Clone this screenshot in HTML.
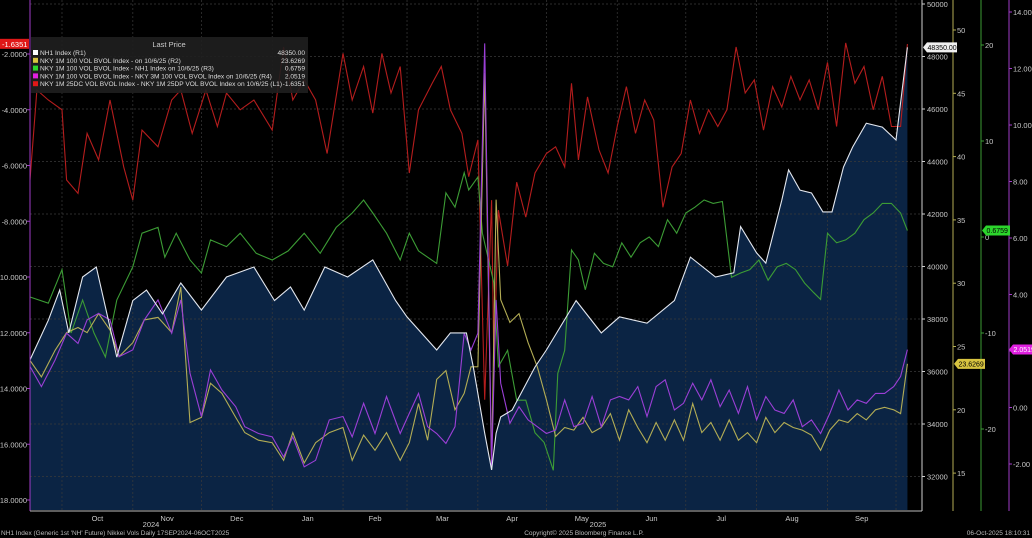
<!DOCTYPE html>
<html><head><meta charset="utf-8"><style>
body{margin:0;background:#000;width:1032px;height:538px;overflow:hidden;font-family:"Liberation Sans",sans-serif}
svg{display:block}
text{font-family:"Liberation Sans",sans-serif}
</style></head><body>
<svg id="c" width="1032" height="538"></svg>
<script>
// ---- data ----
const nhDates=["2024-09-17","2024-09-25","2024-09-30","2024-10-04","2024-10-10","2024-10-16","2024-10-25","2024-11-01","2024-11-07","2024-11-14","2024-11-22","2024-12-01","2024-12-12","2024-12-24","2025-01-02","2025-01-09","2025-01-15","2025-01-24","2025-02-03","2025-02-14","2025-02-24","2025-03-01","2025-03-14","2025-03-20","2025-03-27","2025-03-30","2025-04-04","2025-04-07","2025-04-09","2025-04-11","2025-04-16","2025-04-26","2025-05-01","2025-05-14","2025-05-25","2025-06-02","2025-06-14","2025-06-26","2025-07-03","2025-07-14","2025-07-22","2025-07-25","2025-08-01","2025-08-05","2025-08-12","2025-08-15","2025-08-20","2025-08-25","2025-08-30","2025-09-03","2025-09-08","2025-09-12","2025-09-18","2025-09-25","2025-10-01","2025-10-06"];
const nhValues=[36440,37950,39100,37470,39600,39980,36550,38700,39100,38200,39370,38340,39600,39980,38700,39220,38340,39980,39600,40250,38700,38080,36820,37470,37470,36170,33650,32250,33650,34270,34530,36170,36820,38700,37470,38080,37840,38700,40360,39600,39760,41520,40520,40130,42530,43680,42910,42800,42080,42080,43790,44550,45460,45310,44820,48350];

const rrDates=["2024-09-17","2024-09-20","2024-09-25","2024-10-01","2024-10-03","2024-10-08","2024-10-12","2024-10-17","2024-10-22","2024-10-28","2024-11-01","2024-11-05","2024-11-12","2024-11-18","2024-11-22","2024-11-27","2024-12-03","2024-12-08","2024-12-12","2024-12-18","2024-12-24","2025-01-01","2025-01-06","2025-01-10","2025-01-15","2025-01-20","2025-01-25","2025-02-01","2025-02-05","2025-02-10","2025-02-14","2025-02-18","2025-02-22","2025-02-26","2025-03-02","2025-03-06","2025-03-12","2025-03-16","2025-03-20","2025-03-25","2025-03-28","2025-04-01","2025-04-04","2025-04-07","2025-04-08","2025-04-10","2025-04-14","2025-04-18","2025-04-22","2025-04-26","2025-05-01","2025-05-05","2025-05-09","2025-05-12","2025-05-15","2025-05-19","2025-05-24","2025-05-28","2025-06-01","2025-06-05","2025-06-09","2025-06-13","2025-06-17","2025-06-21","2025-06-25","2025-06-29","2025-07-03","2025-07-07","2025-07-11","2025-07-15","2025-07-19","2025-07-23","2025-07-27","2025-07-31","2025-08-04","2025-08-08","2025-08-12","2025-08-16","2025-08-20","2025-08-24","2025-08-28","2025-09-01","2025-09-05","2025-09-09","2025-09-13","2025-09-17","2025-09-21","2025-09-25","2025-09-29","2025-10-03","2025-10-06"];
const rrValues=[-6.52,-3.29,-3.65,-4.0,-6.52,-7.0,-4.85,-5.8,-3.65,-6.05,-7.24,-4.73,-5.33,-3.65,-3.29,-4.85,-3.29,-4.6,-3.4,-4.0,-3.65,-4.73,-1.75,-3.65,-2.93,-3.65,-5.57,-1.98,-3.65,-2.45,-4.12,-1.98,-3.4,-2.45,-6.27,-4.0,-3.05,-2.45,-4.0,-4.85,-6.4,-5.08,-14.4,-7.24,-13.2,-7.6,-9.6,-6.6,-7.85,-6.27,-5.57,-5.33,-6.05,-3.05,-5.8,-3.54,-5.44,-6.27,-4.6,-3.17,-4.85,-3.65,-4.37,-7.5,-6.05,-5.57,-3.65,-4.85,-4.0,-4.6,-4.0,-1.75,-3.4,-2.93,-4.73,-3.17,-3.9,-2.8,-3.65,-2.93,-4.0,-2.3,-4.6,-1.6,-3.05,-2.45,-4.0,-2.8,-4.6,-4.6,-1.64];

const grDates=["2024-09-17","2024-09-25","2024-10-01","2024-10-05","2024-10-10","2024-10-15","2024-10-20","2024-10-25","2024-11-01","2024-11-05","2024-11-12","2024-11-15","2024-11-20","2024-11-26","2024-12-01","2024-12-05","2024-12-12","2024-12-18","2024-12-25","2025-01-01","2025-01-08","2025-01-15","2025-01-22","2025-01-29","2025-02-05","2025-02-10","2025-02-14","2025-02-20","2025-02-26","2025-03-02","2025-03-06","2025-03-10","2025-03-14","2025-03-18","2025-03-22","2025-03-26","2025-03-28","2025-04-01","2025-04-03","2025-04-08","2025-04-10","2025-04-14","2025-04-18","2025-04-22","2025-04-26","2025-04-30","2025-05-04","2025-05-06","2025-05-09","2025-05-12","2025-05-15","2025-05-18","2025-05-22","2025-05-26","2025-05-30","2025-06-03","2025-06-07","2025-06-11","2025-06-15","2025-06-19","2025-06-23","2025-06-27","2025-07-01","2025-07-05","2025-07-09","2025-07-13","2025-07-17","2025-07-21","2025-07-25","2025-07-29","2025-08-02","2025-08-06","2025-08-10","2025-08-14","2025-08-18","2025-08-22","2025-08-26","2025-08-29","2025-09-01","2025-09-05","2025-09-09","2025-09-13","2025-09-17","2025-09-21","2025-09-25","2025-09-29","2025-10-03","2025-10-06"];
const grValues=[-6.25,-6.9,-3.4,-10,-6.56,-10,-12.5,-6.56,-3.1,0.4,1.0,-2.1,0.4,-2.4,-3.75,-0.3,-1.0,0.4,-1.7,-2.4,-1.45,0.4,-1.7,1.0,2.5,3.85,2.5,0.4,-2.4,0.4,-1.45,-2.1,-2.75,4.6,3.1,6.7,4.9,6.25,0.4,-4.8,-13.5,-11.8,-17,-17,-20.4,-21.4,-24.3,-14.2,-11.8,-1.35,-2.4,-5.5,-1.7,-2.75,-3.1,-0.6,-2.1,-0.6,0.0,-1.0,1.8,0.4,2.5,3.1,3.85,3.5,3.7,-4.2,-3.75,-3.4,-2.4,-4.5,-3.1,-2.75,-3.4,-4.8,-5.8,-6.5,0.4,-0.6,-0.3,0.4,1.8,2.5,3.5,3.5,2.5,0.68];

const yeDates=["2024-09-17","2024-09-22","2024-09-28","2024-10-03","2024-10-08","2024-10-12","2024-10-17","2024-10-22","2024-10-26","2024-11-01","2024-11-06","2024-11-12","2024-11-18","2024-11-22","2024-11-26","2024-12-01","2024-12-05","2024-12-10","2024-12-16","2024-12-20","2024-12-26","2025-01-01","2025-01-06","2025-01-10","2025-01-15","2025-01-20","2025-01-26","2025-02-01","2025-02-05","2025-02-10","2025-02-15","2025-02-20","2025-02-26","2025-03-02","2025-03-06","2025-03-10","2025-03-14","2025-03-18","2025-03-22","2025-03-26","2025-03-29","2025-04-01","2025-04-04","2025-04-07","2025-04-09","2025-04-11","2025-04-15","2025-04-19","2025-04-23","2025-04-27","2025-05-01","2025-05-05","2025-05-09","2025-05-13","2025-05-17","2025-05-21","2025-05-25","2025-05-29","2025-06-02","2025-06-06","2025-06-10","2025-06-14","2025-06-18","2025-06-22","2025-06-26","2025-06-30","2025-07-04","2025-07-08","2025-07-12","2025-07-16","2025-07-20","2025-07-24","2025-07-28","2025-08-01","2025-08-05","2025-08-09","2025-08-13","2025-08-17","2025-08-21","2025-08-25","2025-08-29","2025-09-02","2025-09-06","2025-09-10","2025-09-14","2025-09-18","2025-09-22","2025-09-26","2025-09-30","2025-10-03","2025-10-06"];
const yeValues=[23.9,22.6,24.7,26.1,26.5,26.1,27.6,26.3,24.2,25.3,27.1,27.3,26.1,29.7,19.0,19.4,22.1,21.3,19.4,18.2,17.6,17.4,16.0,18.2,15.8,17.4,18.2,18.6,16.0,18.0,16.8,18.2,16.0,17.4,20.5,17.6,22.4,23.1,20.0,21.3,23.4,23.4,46.6,15.3,36.6,28.7,26.9,27.6,25.3,23.4,20.8,17.9,18.6,18.4,19.4,18.2,18.6,19.7,17.6,20.0,18.6,17.4,19.0,17.6,19.2,17.6,20.5,18.2,19.0,17.6,19.2,17.6,18.2,17.4,19.4,18.2,19.0,18.6,18.4,18.0,16.8,18.4,19.2,19.0,19.7,19.2,20.0,20.2,20.0,19.7,23.63];

const puDates=yeDates;
const puValues=[1.45,0.74,1.68,2.63,2.27,3.10,3.33,3.10,1.80,2.04,3.10,3.81,2.63,3.81,1.21,-0.32,1.33,0.62,0.03,-0.68,-0.92,-1.04,-1.75,-1.04,-2.10,-1.87,-0.44,-0.32,-1.04,0.15,-0.92,0.39,-0.92,-0.21,0.50,-0.68,-0.92,-1.27,-0.68,2.63,2.04,2.63,12.89,-2.10,3.81,0.86,-0.56,0.03,-0.44,-0.68,-0.92,-0.80,0.27,-0.68,-0.56,0.39,-0.68,0.27,0.39,0.27,0.74,-0.32,0.74,0.98,-0.09,0.15,0.86,0.27,0.98,0.03,0.62,-0.21,0.74,-0.44,0.39,-0.09,-0.21,0.27,-0.68,-0.44,-0.92,-0.21,0.62,-0.09,0.27,0.15,0.50,0.50,0.74,1.10,2.05];

const monthLabels=["Oct","Nov","Dec","Jan","Feb","Mar","Apr","May","Jun","Jul","Aug","Sep"];
const monthStarts=["2024-10-01","2024-11-01","2024-12-01","2025-01-01","2025-02-01","2025-03-01","2025-04-01","2025-05-01","2025-06-01","2025-07-01","2025-08-01","2025-09-01","2025-10-01"];
const r1Ticks=[32000,34000,36000,38000,40000,42000,44000,46000,48000,50000];
const r2Ticks=[15,20,25,30,35,40,45,50];
const r3Ticks=[-20,-10,0,10,20];
const r4Ticks=[-2,0,2,4,6,8,10,12,14];
const l1Ticks=[-18,-16,-14,-12,-10,-8,-6,-4,-2];

// ---- scales ----
const t0=Date.parse("2024-09-17"),PX0=30,PXD=2.285;
const X=d=>PX0+(Date.parse(d)-t0)/864e5*PXD;
const Y1=v=>4+(50000-v)/2000*52.5;
const Y2=v=>30+(50-v)*12.66;
const Y3=v=>45+(20-v)*9.6;
const Y4=v=>12+(14-v)*28.25;
const YL=v=>54+(-2-v)*27.875;
const svg=document.getElementById('c');const NS="http://www.w3.org/2000/svg";
function mk(tag,attrs,parent){const e=document.createElementNS(NS,tag);for(const k in attrs)e.setAttribute(k,attrs[k]);(parent||svg).appendChild(e);return e;}
function txt(s,x,y,fill,size,anchor,name){const e=mk('text',{x:x,y:y,fill:fill,'font-size':size,'text-anchor':anchor||'start'});e.textContent=s;


return e;}

// area fill
const pts=nhDates.map((d,i)=>X(d).toFixed(1)+','+Y1(nhValues[i]).toFixed(1));
const area=mk('polygon',{points:X(nhDates[0])+',510 '+pts.join(' ')+' '+X(nhDates[nhDates.length-1])+',510',fill:'#0b2444'});


// grid
r1Ticks.forEach(v=>{const l=mk('line',{x1:30,x2:922,y1:Y1(v),y2:Y1(v),stroke:'#3a3a3a','stroke-width':0.7,'stroke-dasharray':'2,2'});

});
monthStarts.forEach(d=>{const l=mk('line',{x1:X(d),x2:X(d),y1:0,y2:510,stroke:'#3a3a3a','stroke-width':0.7,'stroke-dasharray':'2,2'});

});
// series
function line(dates,vals,ys,color,name){const p=mk('polyline',{points:dates.map((d,i)=>X(d).toFixed(1)+','+ys(vals[i]).toFixed(1)).join(' '),fill:'none',stroke:color,'stroke-width':1.1});

}
line(rrDates,rrValues,YL,'#b51d1d','series-risk-reversal');
line(grDates,grValues,Y3,'#3c9c35','series-vol-spread-nh1');
line(yeDates,yeValues,Y2,'#b3ad55','series-1m-vol');
line(puDates,puValues,Y4,'#9b3fd6','series-term-spread');
line(nhDates,nhValues,Y1,'#e4e8f0','series-nh1');

// axes
function axis(x,color,ticks,ys,fmt,name,lx,anchor){const a=mk('line',{x1:x,x2:x,y1:0,y2:511,stroke:color,'stroke-width':1});


ticks.forEach(v=>{mk('line',{x1:x,x2:x+(anchor==='end'?-3:3),y1:ys(v),y2:ys(v),stroke:color});txt(fmt(v),lx,ys(v)+3,'#c8c8c8',7.5,anchor||'start',name+'-tick');});}
axis(30,'#a03cc8',l1Ticks,YL,v=>v.toFixed(4),'left-axis',27,'end');
axis(922,'#cfcfcf',r1Ticks,Y1,v=>String(v),'r1-axis',927);
axis(953,'#b3ad55',r2Ticks,Y2,v=>String(v),'r2-axis',957);
axis(981,'#3c9c35',r3Ticks,Y3,v=>String(v),'r3-axis',985);
axis(1009,'#a03cc8',r4Ticks,Y4,v=>v.toFixed(2),'r4-axis',1013);
mk('line',{x1:30,x2:922,y1:511,y2:511,stroke:'#bbb'});
// x labels
monthLabels.forEach((m,i)=>{const mid=(X(monthStarts[i])+X(monthStarts[i+1]))/2;txt(m,mid,521,'#c8c8c8',7.5,'middle','x-tick-label');});
txt('2024',151,527,'#c8c8c8',7.5,'middle','year-label-2024');
txt('2025',598,527,'#c8c8c8',7.5,'middle','year-label-2025');
// tags
function tag(x,y,w,bg,fg,s,name){const g=mk('g',{});
mk('polygon',{points:`${x},${y} ${x+4},${y-5} ${x+w},${y-5} ${x+w},${y+5} ${x+4},${y+5}`,fill:bg},g);
const t=txt(s,x+4.5,y+2.5,fg,7,'start',name+'-text');g.appendChild(t);}
tag(923,Y1(48350),34,'#f0f0f0','#000','48350.00','r1-last-tag');
tag(954,Y2(23.6269),31,'#d8c440','#000','23.6269','r2-last-tag');
tag(982,Y3(0.6759),28,'#2cd52c','#000','0.6759','r3-last-tag');
tag(1009,Y4(2.0519),23,'#e020e0','#fff','2.0519','r4-last-tag');
const lt=mk('rect',{x:0,y:YL(-1.6351)-5,width:29,height:10,fill:'#e01818'});


txt('-1.6351',2,YL(-1.6351)+3,'#fff',7.5,'start','left-last-tag-text');

// legend
const lg=mk('g',{});
mk('rect',{x:31,y:37,width:277,height:56,fill:'#1f1f1f',opacity:0.9},lg);
txt('Last Price',169,47,'#ccc',7.5,'middle','legend-title');
const legNames=["NH1 Index  (R1)","NKY 1M 100 VOL BVOL Index -  on 10/6/25  (R2)","NKY 1M 100 VOL BVOL Index - NH1 Index on 10/6/25  (R3)","NKY 1M 100 VOL BVOL Index - NKY 3M 100 VOL BVOL Index on 10/6/25  (R4)","NKY 1M 25DC VOL BVOL Index - NKY 1M 25DP VOL BVOL Index on 10/6/25  (L1)"];
const legVals=["48350.00","23.6269","0.6759","2.0519","-1.6351"];
const legCols=['#ffffff','#d8c440','#2cd52c','#e020e0','#e01818'];
legNames.forEach((n,i)=>{const y=55+i*7.8;
const s=mk('rect',{x:33,y:y-5,width:5,height:5,fill:legCols[i]});


txt(n,40,y,'#ddd',6.6,'start','legend-entry');
txt(legVals[i],305,y,'#ddd',6.6,'end','legend-value');});

// footer
txt("NH1 Index (Generic 1st 'NH' Future) Nikkei Vols Daily 17SEP2024-06OCT2025",1,535,'#bbb',6.5,'start','footer-source');
txt("Copyright© 2025 Bloomberg Finance L.P.",584,535,'#bbb',6.5,'middle','footer-copyright');
txt("06-Oct-2025 18:10:31",1030,535,'#bbb',6.5,'end','footer-timestamp');
</script>
</body></html>
